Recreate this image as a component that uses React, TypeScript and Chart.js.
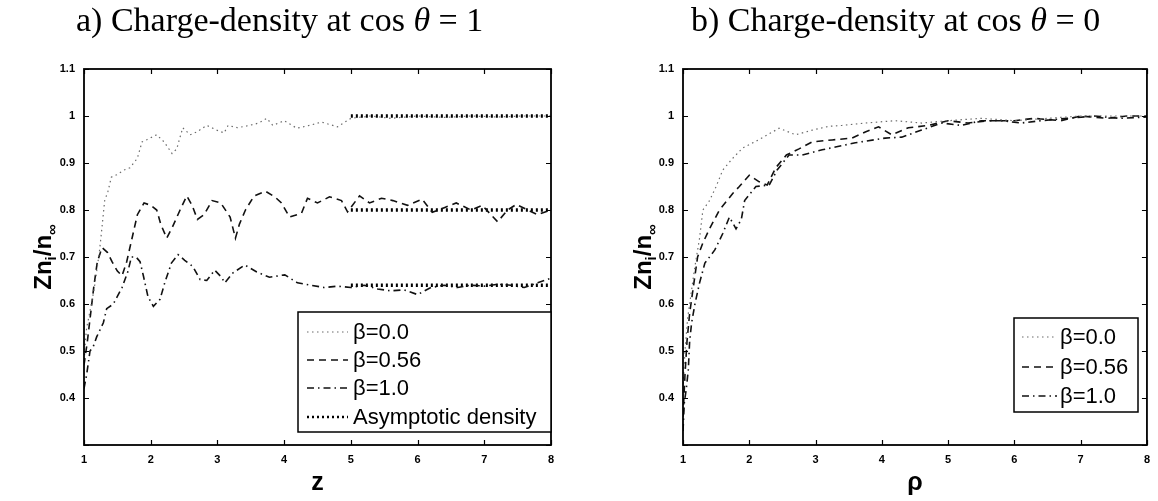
import React, { useEffect, useRef } from "react";
import { Chart, registerables } from "chart.js";
Chart.register(...registerables);

// ---------- tick values ----------
const xTickValues = [1, 2, 3, 4, 5, 6, 7, 8];
const yTickValues = [0.3, 0.4, 0.5, 0.6, 0.7, 0.8, 0.9, 1.0, 1.1];

// ---------- legend labels ----------
const legendLabelsA = ["β=0.0", "β=0.56", "β=1.0", "Asymptotic density"];
const legendLabelsB = ["β=0.0", "β=0.56", "β=1.0"];

// ---------- panel a: charge density at cos θ = 1 (x = z) ----------
const aZ0 = [1.0,1.02,1.04,1.07,1.11,1.15,1.19,1.23,1.26,1.31,1.36,1.41,1.49,1.6,1.69,1.8,1.87,1.95,2.09,2.2,2.32,2.39,2.48,2.59,2.69,2.84,2.99,3.1,3.16,3.3,3.48,3.62,3.74,3.83,4.0,4.19,4.38,4.56,4.8,5.0,5.3,5.6,6.0,6.4,6.8,7.2,7.6,8.0];
const aN0 = [0.47,0.52,0.55,0.57,0.6,0.63,0.67,0.71,0.75,0.82,0.84,0.87,0.875,0.885,0.89,0.91,0.945,0.95,0.96,0.945,0.92,0.93,0.975,0.96,0.966,0.98,0.97,0.964,0.98,0.975,0.98,0.985,0.995,0.98,0.99,0.974,0.98,0.987,0.977,0.995,1.0,0.995,1.0,0.997,1.0,0.998,1.0,1.0];

const aZ1 = [1.0,1.05,1.1,1.15,1.2,1.27,1.35,1.42,1.5,1.57,1.64,1.72,1.8,1.9,2.0,2.09,2.15,2.24,2.33,2.44,2.54,2.62,2.7,2.8,2.92,3.05,3.19,3.27,3.33,3.42,3.55,3.72,3.86,3.96,4.08,4.26,4.35,4.5,4.68,4.86,4.95,5.13,5.28,5.46,5.63,5.85,6.07,6.22,6.4,6.58,6.8,6.97,7.1,7.2,7.35,7.48,7.65,7.8,8.0];
const aN1 = [0.47,0.52,0.58,0.64,0.69,0.72,0.71,0.69,0.67,0.66,0.69,0.74,0.79,0.815,0.81,0.8,0.77,0.74,0.765,0.8,0.83,0.81,0.78,0.79,0.82,0.815,0.785,0.74,0.77,0.8,0.83,0.84,0.828,0.815,0.785,0.793,0.825,0.815,0.828,0.82,0.796,0.83,0.815,0.825,0.82,0.81,0.823,0.795,0.805,0.815,0.8,0.81,0.79,0.775,0.8,0.812,0.8,0.79,0.8];

const aZ2 = [1.0,1.04,1.09,1.14,1.19,1.29,1.34,1.44,1.57,1.66,1.71,1.78,1.84,1.89,1.96,2.04,2.14,2.21,2.31,2.41,2.51,2.63,2.74,2.84,2.96,3.06,3.11,3.23,3.41,3.59,3.78,4.01,4.2,4.4,4.6,4.8,5.0,5.2,5.4,5.6,5.8,6.0,6.2,6.4,6.6,6.8,7.0,7.2,7.4,7.6,7.8,8.0];
const aN2 = [0.42,0.45,0.5,0.51,0.53,0.56,0.59,0.6,0.635,0.67,0.7,0.7,0.69,0.66,0.615,0.595,0.61,0.645,0.687,0.705,0.693,0.68,0.652,0.65,0.672,0.657,0.645,0.666,0.683,0.668,0.657,0.662,0.645,0.64,0.635,0.638,0.635,0.64,0.632,0.628,0.63,0.62,0.635,0.64,0.635,0.64,0.638,0.642,0.64,0.635,0.645,0.655];

const asymZ = [5, 8];
const asym0 = [1.0, 1.0];
const asym1 = [0.8, 0.8];
const asym2 = [0.64, 0.64];

// ---------- panel b: charge density at cos θ = 0 (x = ρ) ----------
const bR0 = [1.0,1.03,1.07,1.12,1.18,1.25,1.3,1.4,1.5,1.6,1.75,1.9,2.15,2.45,2.7,2.95,3.2,3.4,3.75,4.2,4.6,5.0,5.5,6.0,6.5,7.0,7.5,8.0];
const bN0 = [0.42,0.5,0.57,0.62,0.68,0.74,0.8,0.82,0.85,0.885,0.91,0.932,0.95,0.974,0.96,0.97,0.978,0.98,0.985,0.99,0.985,0.99,0.995,0.99,0.995,1.0,1.0,1.0];

const bR1 = [1.0,1.03,1.06,1.1,1.15,1.22,1.3,1.4,1.55,1.75,1.85,2.0,2.15,2.27,2.4,2.56,2.75,2.95,3.25,3.55,3.75,3.95,4.15,4.4,4.7,5.0,5.3,5.6,6.0,6.3,6.7,7.0,7.4,7.7,8.0];
const bN1 = [0.36,0.45,0.52,0.58,0.63,0.7,0.73,0.76,0.8,0.835,0.85,0.874,0.86,0.853,0.89,0.917,0.93,0.945,0.949,0.953,0.966,0.977,0.96,0.975,0.98,0.99,0.985,0.99,0.99,0.995,0.99,1.0,0.995,1.0,1.0];

const bR2 = [1.0,1.02,1.05,1.08,1.1,1.13,1.18,1.25,1.33,1.48,1.6,1.7,1.8,1.88,1.93,2.1,2.3,2.42,2.6,2.8,3.1,3.3,3.6,4.05,4.3,4.6,4.9,5.2,5.5,5.8,6.1,6.4,6.8,7.2,7.6,8.0];
const bN2 = [0.33,0.39,0.42,0.46,0.52,0.56,0.6,0.645,0.687,0.715,0.75,0.785,0.76,0.78,0.82,0.85,0.853,0.885,0.917,0.917,0.928,0.934,0.943,0.953,0.955,0.97,0.985,0.98,0.99,0.99,0.985,0.99,0.995,1.0,0.995,0.998];

// ---------- styles ----------
const SANS = "'Liberation Sans', Arial, Helvetica, sans-serif";
const SERIF = "'Liberation Serif', 'Times New Roman', serif";
const STY: Record<string, { borderColor: string; borderWidth: number; borderDash: number[] }> = {
  b0: { borderColor: "#6a6a6a", borderWidth: 1.2, borderDash: [1.5, 3.5] },
  b1: { borderColor: "#111", borderWidth: 1.6, borderDash: [7, 5] },
  b2: { borderColor: "#111", borderWidth: 1.6, borderDash: [7, 4, 1.5, 4] },
  asym: { borderColor: "#000", borderWidth: 3.5, borderDash: [2, 3] },
};

const zip = (xs: number[], ys: number[]) => xs.map((x, i) => ({ x, y: ys[i] }));
const ds = (label: string, xs: number[], ys: number[], s: string) => ({
  label,
  data: zip(xs, ys),
  ...STY[s],
  pointRadius: 0,
  tension: 0,
  fill: false,
  borderCapStyle: "butt",
});

type PanelCfg = {
  datasets: any[];
  titleParts: [string, string, string];
  titleX: number;
  xTitle: string;
  yWidth: number;
  padRight: number;
  yLabelX: number;
  legend: { left: number; top: number; right: number; bottom: number; rows: { label: string; style: string; y: number }[]; s0: number; s1: number; tx: number };
};

function decorPlugin(cfg: PanelCfg) {
  return {
    id: "decor",
    afterDraw(chart: any) {
      const { ctx, chartArea: a, scales } = chart;
      ctx.save();
      // inward tick marks on all four sides
      ctx.strokeStyle = "#000";
      ctx.lineWidth = 1.2;
      ctx.setLineDash([]);
      ctx.beginPath();
      xTickValues.forEach((v) => {
        const px = Math.round(scales.x.getPixelForValue(v)) + 0.5;
        ctx.moveTo(px, a.bottom); ctx.lineTo(px, a.bottom - 5);
        ctx.moveTo(px, a.top); ctx.lineTo(px, a.top + 5);
      });
      yTickValues.forEach((v) => {
        const py = Math.round(scales.y.getPixelForValue(v)) + 0.5;
        ctx.moveTo(a.left, py); ctx.lineTo(a.left + 5, py);
        ctx.moveTo(a.right, py); ctx.lineTo(a.right - 5, py);
      });
      ctx.stroke();
      // frame
      ctx.lineWidth = 1.8;
      ctx.strokeRect(a.left, a.top, a.right - a.left, a.bottom - a.top);

      // title
      ctx.fillStyle = "#000";
      ctx.textBaseline = "alphabetic";
      ctx.textAlign = "left";
      let tx = cfg.titleX;
      const [p0, p1, p2] = cfg.titleParts;
      ctx.font = `34px ${SERIF}`;
      ctx.fillText(p0, tx, 31); tx += ctx.measureText(p0).width;
      ctx.font = `italic 34px ${SERIF}`;
      ctx.fillText(p1, tx, 31); tx += ctx.measureText(p1).width;
      ctx.font = `34px ${SERIF}`;
      ctx.fillText(p2, tx, 31);

      // y axis label Zn_i / n_∞
      const big = `bold 24px ${SANS}`;
      const small = `bold 15px ${SANS}`;
      const parts = [
        { t: "Zn", f: big, dy: 0 },
        { t: "i", f: small, dy: 5 },
        { t: "/n", f: big, dy: 0 },
        { t: "∞", f: small, dy: 6 },
      ];
      let total = 0;
      parts.forEach((p) => { ctx.font = p.f; total += ctx.measureText(p.t).width; });
      ctx.save();
      ctx.translate(cfg.yLabelX, (a.top + a.bottom) / 2);
      ctx.rotate(-Math.PI / 2);
      let lx = -total / 2;
      parts.forEach((p) => {
        ctx.font = p.f;
        ctx.fillText(p.t, lx, 8.5 + p.dy);
        lx += ctx.measureText(p.t).width;
      });
      ctx.restore();

      // legend
      const L = cfg.legend;
      ctx.fillStyle = "#fff";
      ctx.fillRect(L.left, L.top, L.right - L.left, L.bottom - L.top);
      ctx.strokeStyle = "#000";
      ctx.lineWidth = 1.5;
      ctx.setLineDash([]);
      ctx.strokeRect(L.left, L.top, L.right - L.left, L.bottom - L.top);
      L.rows.forEach((r) => {
        const s = STY[r.style];
        ctx.strokeStyle = s.borderColor;
        ctx.lineWidth = r.style === "asym" ? 2.5 : s.borderWidth;
        ctx.setLineDash(s.borderDash);
        ctx.beginPath();
        ctx.moveTo(L.s0, r.y); ctx.lineTo(L.s1, r.y);
        ctx.stroke();
        ctx.setLineDash([]);
        ctx.fillStyle = "#000";
        ctx.font = `22px ${SANS}`;
        ctx.textBaseline = "middle";
        ctx.fillText(r.label, L.tx, r.y + 1);
      });
      ctx.restore();
    },
  };
}

function buildChart(canvas: HTMLCanvasElement, cfg: PanelCfg) {
  const tickFont = { family: SANS, size: 11, weight: "bold" as const };
  return new Chart(canvas, {
    type: "line",
    data: { datasets: cfg.datasets },
    options: {
      responsive: false,
      devicePixelRatio: 1,
      animation: false,
      layout: { padding: { top: 69, right: cfg.padRight, bottom: 0, left: 0 } },
      plugins: { legend: { display: false }, tooltip: { enabled: false }, title: { display: false } },
      scales: {
        x: {
          type: "linear",
          min: 1,
          max: 8,
          afterFit: (s: any) => { s.height = 56; },
          grid: { display: false, drawTicks: false },
          border: { display: false },
          ticks: { stepSize: 1, padding: 8, color: "#000", font: tickFont, maxRotation: 0 },
          title: { display: true, text: cfg.xTitle, color: "#000", font: { family: SANS, size: 25, weight: "bold" }, padding: { top: 0, bottom: 3 } },
        },
        y: {
          type: "linear",
          min: 0.3,
          max: 1.1,
          afterFit: (s: any) => { s.width = cfg.yWidth; },
          grid: { display: false, drawTicks: false },
          border: { display: false },
          ticks: {
            stepSize: 0.1,
            padding: 9,
            color: "#000",
            font: tickFont,
            callback: (v: any) => (Number(v) < 0.35 ? "" : String(Math.round(Number(v) * 10) / 10)),
          },
        },
      },
    } as any,
    plugins: [decorPlugin(cfg)],
  });
}

const panelA: PanelCfg = {
  datasets: [
    ds(legendLabelsA[0], aZ0, aN0, "b0"),
    ds(legendLabelsA[1], aZ1, aN1, "b1"),
    ds(legendLabelsA[2], aZ2, aN2, "b2"),
    ds(legendLabelsA[3], asymZ, asym0, "asym"),
    ds(legendLabelsA[3], asymZ, asym1, "asym"),
    ds(legendLabelsA[3], asymZ, asym2, "asym"),
  ],
  titleParts: ["a) Charge-density at cos ", "θ", " = 1"],
  titleX: 76,
  xTitle: "z",
  yWidth: 84,
  padRight: 28,
  yLabelX: 42,
  legend: {
    left: 298, top: 312, right: 551, bottom: 432,
    rows: [
      { label: legendLabelsA[0], style: "b0", y: 332 },
      { label: legendLabelsA[1], style: "b1", y: 360 },
      { label: legendLabelsA[2], style: "b2", y: 388 },
      { label: legendLabelsA[3], style: "asym", y: 417 },
    ],
    s0: 307, s1: 348, tx: 353,
  },
};

const panelB: PanelCfg = {
  datasets: [
    ds(legendLabelsB[0], bR0, bN0, "b0"),
    ds(legendLabelsB[1], bR1, bN1, "b1"),
    ds(legendLabelsB[2], bR2, bN2, "b2"),
  ],
  titleParts: ["b) Charge-density at cos ", "θ", " = 0"],
  titleX: 112,
  xTitle: "ρ",
  yWidth: 104,
  padRight: 8,
  yLabelX: 63,
  legend: {
    left: 435, top: 318, right: 559, bottom: 412,
    rows: [
      { label: legendLabelsB[0], style: "b0", y: 337 },
      { label: legendLabelsB[1], style: "b1", y: 367 },
      { label: legendLabelsB[2], style: "b2", y: 396 },
    ],
    s0: 443, s1: 478, tx: 481,
  },
};

export default function App() {
  const r1 = useRef<HTMLCanvasElement>(null);
  const r2 = useRef<HTMLCanvasElement>(null);
  useEffect(() => {
    const c1 = buildChart(r1.current!, panelA);
    const c2 = buildChart(r2.current!, panelB);
    return () => { c1.destroy(); c2.destroy(); };
  }, []);
  return (
    <div style={{ position: "absolute", left: 0, top: 0, width: 1158, height: 501, background: "#fff" }}>
      <canvas ref={r1} width={579} height={501} style={{ position: "absolute", left: 0, top: 0 }} />
      <canvas ref={r2} width={579} height={501} style={{ position: "absolute", left: 579, top: 0 }} />
    </div>
  );
}
